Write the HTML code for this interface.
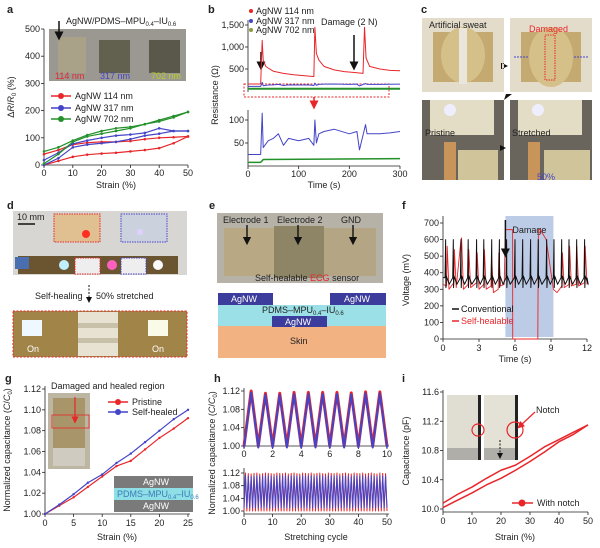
<!DOCTYPE html>
<html><head><meta charset="utf-8"><style>
html,body{margin:0;padding:0;background:#fff;}
svg{display:block;font-family:"Liberation Sans",sans-serif;}
text{font-size:9px;fill:#222;}
.pl{font-size:11px;font-weight:bold;}
</style></head><body>
<svg id="fig" width="600" height="548" viewBox="0 0 600 548" xmlns="http://www.w3.org/2000/svg">
<defs>
<marker id="ah" markerWidth="6" markerHeight="6" refX="3" refY="3" orient="auto"><path d="M0,0 L6,3 L0,6 z" fill="#111"/></marker>
<marker id="ahr" markerWidth="6" markerHeight="6" refX="3" refY="3" orient="auto"><path d="M0,0 L6,3 L0,6 z" fill="#e8262a"/></marker>
</defs>
<!-- panel letters -->
<text class="pl" x="7" y="13">a</text>
<text class="pl" x="208" y="13">b</text>
<text class="pl" x="421" y="13">c</text>
<text class="pl" x="7" y="209">d</text>
<text class="pl" x="209" y="209">e</text>
<text class="pl" x="402" y="209">f</text>
<text class="pl" x="5" y="382">g</text>
<text class="pl" x="214" y="382">h</text>
<text class="pl" x="402" y="382">i</text>

<!-- panel a inset photo -->
<g>
<rect x="49" y="29" width="137" height="52" fill="#9a9890"/>
<rect x="58" y="37" width="28" height="36" fill="#aaa288"/>
<rect x="99" y="40" width="31" height="33" fill="#62604f"/>
<rect x="149" y="40" width="31" height="33" fill="#5a584a"/>
<text x="55" y="79" style="fill:#e8262a">114 nm</text>
<text x="100" y="79" style="fill:#4444c8">317 nm</text>
<text x="151" y="79" style="fill:#b8d020">702 nm</text>
</g>
<text x="66" y="24">AgNW/PDMS–MPU<tspan font-size="6" dy="2">0.4</tspan><tspan dy="-2">–IU</tspan><tspan font-size="6" dy="2">0.6</tspan></text>
<line x1="59" y1="21" x2="59" y2="36" stroke="#111" stroke-width="1.5" marker-end="url(#ah)"/>

<!-- panel b annotations -->
<text x="321" y="25">Damage (2 N)</text>
<line x1="261" y1="52" x2="261" y2="66" stroke="#111" stroke-width="1.5" marker-end="url(#ah)"/>
<line x1="354" y1="35" x2="354" y2="66" stroke="#111" stroke-width="1.5" marker-end="url(#ah)"/>
<rect x="244" y="84" width="145" height="13" fill="none" stroke="#e8262a" stroke-dasharray="2,1.5"/>
<line x1="314" y1="97" x2="314" y2="105" stroke="#e8262a" stroke-width="1.5" marker-end="url(#ahr)"/>

<!-- panel c photos -->
<g>
<rect x="422" y="18" width="82" height="74" fill="#e4dccb"/>
<rect x="433" y="32" width="60" height="50" fill="#c4aa70"/>
<ellipse cx="463" cy="55" rx="22" ry="28" fill="#d6c08a"/>
<rect x="459" y="28" width="8" height="56" fill="#ebe6dc"/>
<text x="429" y="28">Artificial sweat</text>
<rect x="510" y="18" width="82" height="74" fill="#e4dccb"/>
<rect x="521" y="32" width="60" height="50" fill="#c4aa70"/>
<ellipse cx="551" cy="57" rx="22" ry="30" fill="#d6c08a"/>
<rect x="545" y="35" width="10" height="45" fill="none" stroke="#e8262a" stroke-dasharray="1.5,1"/>
<text x="529" y="32" style="fill:#e8262a">Damaged</text>
<line x1="514" y1="57" x2="528" y2="57" stroke="#4444c8" stroke-dasharray="2,1"/>
<line x1="588" y1="57" x2="574" y2="57" stroke="#4444c8" stroke-dasharray="2,1"/>
<rect x="422" y="100" width="82" height="80" fill="#6a655c"/>
<rect x="430" y="100" width="64" height="35" fill="#e4ddc6"/>
<circle cx="450" cy="110" r="6" fill="#eef"/>
<rect x="444" y="142" width="12" height="38" fill="#c8945a"/>
<rect x="458" y="150" width="40" height="30" fill="#cfc49a"/>
<text x="425" y="136">Pristine</text>
<rect x="510" y="100" width="82" height="80" fill="#6a655c"/>
<rect x="518" y="100" width="64" height="35" fill="#e4ddc6"/>
<circle cx="538" cy="110" r="6" fill="#eef"/>
<rect x="528" y="142" width="12" height="38" fill="#c8945a"/>
<rect x="544" y="150" width="46" height="30" fill="#cfc49a"/>
<text x="512" y="136">Stretched</text>
<text x="537" y="180" style="fill:#4444c8">50%</text>
<path d="M502,63 l6,3 l-6,3z M504,63 h-3 v6 h3z" fill="#111"/>
<path d="M500,145 l6,3 l-6,3z" fill="#111"/>
<path d="M512,94 l-8,6 l2,-6z" fill="#111"/>
</g>

<!-- panel d -->
<g>
<rect x="13" y="211" width="174" height="64" fill="#d8d6d3"/>
<rect x="18" y="256" width="160" height="18" fill="#6b5530"/>
<rect x="15" y="257" width="14" height="12" fill="#4a6fb0"/>
<circle cx="64" cy="265" r="5" fill="#bfefff"/>
<circle cx="112" cy="265" r="5" fill="#ff60c0"/>
<circle cx="158" cy="265" r="5" fill="#fafafa"/>
<rect x="75" y="258" width="25" height="16" fill="#eee" stroke="#e8262a" stroke-dasharray="1.5,1"/>
<rect x="121" y="258" width="25" height="16" fill="#eee" stroke="#4444c8" stroke-dasharray="1.5,1"/>
<rect x="54" y="214" width="46" height="28" fill="#e0c090" stroke="#e8262a" stroke-dasharray="1.5,1"/>
<circle cx="86" cy="234" r="4" fill="#ff3020"/>
<rect x="121" y="214" width="46" height="28" fill="#ccd2dd" stroke="#4444c8" stroke-dasharray="1.5,1"/>
<circle cx="140" cy="232" r="3" fill="#e0d0ff"/>
<line x1="18" y1="224" x2="35" y2="224" stroke="#111" stroke-width="1.5"/>
<text x="17" y="220">10 mm</text>
<text x="35" y="299">Self-healing</text>
<text x="96" y="299">50% stretched</text>
<line x1="89" y1="285" x2="89" y2="300" stroke="#111" stroke-dasharray="2,1.5" marker-end="url(#ah)"/>
<rect x="13" y="311" width="174" height="46" fill="#a08448" stroke="#e8262a" stroke-dasharray="2,1.5"/>
<rect x="78" y="312" width="40" height="44" fill="#e8e2d2"/>
<rect x="78" y="323" width="40" height="5" fill="#c8c0a8"/>
<rect x="78" y="338" width="40" height="5" fill="#c8c0a8"/>
<rect x="22" y="320" width="20" height="16" fill="#f0f8ff"/>
<rect x="148" y="320" width="20" height="16" fill="#fafae8"/>
<text x="27" y="352" style="fill:#fff">On</text>
<text x="152" y="352" style="fill:#fff">On</text>
</g>

<!-- panel e -->
<g>
<rect x="217" y="213" width="166" height="70" fill="#b6b2a8"/>
<rect x="224" y="228" width="50" height="48" fill="#b8a884"/>
<rect x="274" y="226" width="50" height="52" fill="#8e8466"/>
<rect x="324" y="228" width="52" height="48" fill="#b4a684"/>
<text x="223" y="223">Electrode 1</text>
<text x="277" y="223">Electrode 2</text>
<text x="341" y="223">GND</text>
<line x1="247" y1="225" x2="247" y2="241" stroke="#111" stroke-width="1.4" marker-end="url(#ah)"/>
<line x1="298" y1="225" x2="298" y2="241" stroke="#111" stroke-width="1.4" marker-end="url(#ah)"/>
<line x1="353" y1="225" x2="353" y2="241" stroke="#111" stroke-width="1.4" marker-end="url(#ah)"/>
<text x="255" y="281">Self-healable <tspan style="fill:#e8262a">ECG</tspan> sensor</text>
</g>
<g>
<rect x="218" y="326" width="168" height="32" fill="#f2b282"/>
<text x="290" y="344">Skin</text>
<rect x="218" y="305" width="168" height="21" fill="#9ae0e6"/>
<rect x="218" y="293" width="55" height="12" fill="#3c3c9c"/>
<text x="231" y="302" style="fill:#fff">AgNW</text>
<rect x="330" y="293" width="56" height="12" fill="#3c3c9c"/>
<text x="344" y="302" style="fill:#fff">AgNW</text>
<rect x="272" y="316" width="55" height="11" fill="#3c3c9c"/>
<text x="285" y="325" style="fill:#fff">AgNW</text>
<text x="262" y="313">PDMS–MPU<tspan font-size="6" dy="2">0.4</tspan><tspan dy="-2">–IU</tspan><tspan font-size="6" dy="2">0.6</tspan></text>
</g>

<!-- g insets -->
<g>
<rect x="48" y="393" width="42" height="76" fill="#bdb6a2"/>
<rect x="53" y="398" width="32" height="50" fill="#a8966a"/>
<rect x="53" y="448" width="32" height="18" fill="#cfcbc0"/>
<rect x="52" y="415" width="37" height="13" fill="none" stroke="#e8262a" stroke-width="0.8"/>
<line x1="75" y1="397" x2="75" y2="420" stroke="#e8262a" stroke-width="1.2" marker-end="url(#ahr)"/>
<text x="51" y="389">Damaged and healed region</text>
</g>
<g>
<rect x="114" y="476" width="79" height="12" fill="#7a7a7a"/>
<rect x="114" y="488" width="79" height="12" fill="#8fe0e6"/>
<rect x="114" y="500" width="79" height="12" fill="#7a7a7a"/>
<text x="143" y="485" style="fill:#fff">AgNW</text>
<text x="117" y="497" style="fill:#3a7ab8">PDMS–MPU<tspan font-size="6" dy="2">0.4</tspan><tspan dy="-2">–IU</tspan><tspan font-size="6" dy="2">0.6</tspan></text>
<text x="143" y="509" style="fill:#fff">AgNW</text>
</g>
<!-- i inset -->
<g>
<rect x="447" y="395" width="34" height="65" fill="#e0ddd2"/>
<rect x="447" y="448" width="34" height="12" fill="#b0aea8"/>
<rect x="478" y="395" width="3" height="65" fill="#222"/>
<rect x="484" y="395" width="34" height="65" fill="#e4e1d6"/>
<rect x="484" y="448" width="34" height="12" fill="#b0aea8"/>
<rect x="515" y="395" width="3" height="65" fill="#222"/>
<circle cx="478" cy="430" r="6" fill="none" stroke="#e8262a" stroke-width="1.2"/>
<circle cx="515" cy="430" r="8" fill="none" stroke="#e8262a" stroke-width="1.2"/>
<line x1="535" y1="412" x2="520" y2="426" stroke="#e8262a" stroke-width="1.2" marker-end="url(#ahr)"/>
<text x="536" y="413">Notch</text>
<line x1="500" y1="440" x2="500" y2="456" stroke="#111" stroke-dasharray="2,1.5" marker-end="url(#ah)"/>
</g>
<g id="charts"></g>
</svg>
<script>
// ---- data ----
const aStrain=[0,5,10,15,20,25,30,35,40,45,50];
const aRedUp=[0,15,30,38,42,45,50,55,62,80,105];
const aRedDown=[40,55,75,82,85,85,88,95,100,102,105];
const aBlueUp=[0,25,65,75,80,85,95,108,115,125,125];
const aBlueDown=[18,45,78,90,100,108,112,118,135,125,125];
const aGreenUp=[5,40,85,105,115,125,135,150,165,180,195];
const aGreenDown=[50,65,90,110,125,135,140,150,160,175,195];
const bRedT=[0,25,28,30,35,40,50,70,90,110,128,130,132,135,140,150,170,190,210,227,230,233,240,260,280,300];
const bRedV=[160,160,1150,700,560,520,450,400,370,350,330,330,1450,850,700,560,480,440,420,400,1450,750,560,500,470,460];
const bBlueT=[0,25,28,30,40,50,60,70,80,100,120,130,132,135,140,150,170,200,215,220,232,235,240,260,280,300];
const bBlueV=[25,25,115,40,55,60,70,45,60,55,60,45,100,50,70,75,80,70,75,35,90,70,70,70,72,75];
const bGreenT=[0,25,30,300];
const bGreenV=[8,8,14,16];
const fConvSpikes=[0.22,0.86,1.5,2.1,2.8,3.4,4.06,4.7,5.3,6.0,6.64,7.3,7.94,8.64,9.25,9.89,10.5,11.14,11.8];
const fConvPeak=600, fConvDip=310, fConvBase=370;
const fRedT=[0,0.3,0.35,0.5,0.9,0.95,1.1,1.5,1.55,1.7,2.1,2.15,2.3,2.8,2.85,3.0,3.4,3.45,3.6,4.0,4.05,4.2,4.6,4.65,4.8,5.1,5.2,5.8,5.81,7.9,7.95,8.1,8.6,9.2,9.5,9.9,9.95,10.1,10.5,10.55,10.7,11.1,11.15,11.3,11.8,11.85,12];
const fRedV=[330,320,560,300,340,540,310,600,610,300,330,540,310,340,520,300,330,540,300,320,500,280,300,520,320,330,660,660,0,0,660,660,600,300,280,320,520,310,330,560,320,330,560,320,340,560,330];
const gStrain=[0,2.5,5,7.5,10,12.5,15,17.5,20,22.5,25];
const gPristine=[1.000,1.008,1.016,1.026,1.036,1.046,1.051,1.062,1.073,1.082,1.092];
const gHealed=[1.000,1.009,1.019,1.030,1.038,1.049,1.058,1.069,1.080,1.091,1.100];
const hTopPeaks=[1.12,1.115,1.115,1.117,1.117,1.117,1.117,1.116,1.118,1.118];
const hBotPeaks=[1.12,1.118,1.117,1.119,1.12,1.117,1.118,1.12,1.119,1.118,1.117,1.12,1.119,1.118,1.12,1.117,1.119,1.12,1.118,1.117,1.12,1.119,1.118,1.12,1.117,1.119,1.12,1.118,1.117,1.12,1.119,1.118,1.12,1.117,1.119,1.12,1.118,1.117,1.12,1.119,1.118,1.12,1.117,1.119,1.12,1.118,1.117,1.12,1.119,1.118];
const iStrain=[0,5,10,15,20,25,30,35,40,45,50];
const iUp=[10.02,10.12,10.22,10.33,10.42,10.53,10.65,10.78,10.92,11.02,11.15];
const iDown=[10.08,10.2,10.3,10.42,10.53,10.6,10.72,10.85,10.95,11.05,11.15];

const NS="http://www.w3.org/2000/svg";
const root=document.getElementById('charts');
function mk(tag,attrs,parent){const e=document.createElementNS(NS,tag);for(const k in attrs)e.setAttribute(k,attrs[k]);(parent||root).appendChild(e);return e;}
function lin(d0,d1,r0,r1){return v=>r0+(v-d0)*(r1-r0)/(d1-d0);}
function yAxis(x,ya,yb,ticks,sy,lbl,name){
  const l=mk('line',{x1:x,y1:ya,x2:x,y2:yb,stroke:'#222','stroke-width':0.8});
  
  
  ticks.forEach((t,i)=>{const y=sy(t);mk('line',{x1:x-3,y1:y,x2:x,y2:y,stroke:'#222','stroke-width':0.8});
    const tx=mk('text',{x:x-4,y:y+3,'text-anchor':'end'});tx.textContent=lbl[i];
    
    });
}
function xAxis(y,xa,xb,ticks,sx,lbl,name,ly){
  const l=mk('line',{x1:xa,y1:y,x2:xb,y2:y,stroke:'#222','stroke-width':0.8});
  
  
  ticks.forEach((t,i)=>{const x=sx(t);mk('line',{x1:x,y1:y,x2:x,y2:y+3,stroke:'#222','stroke-width':0.8});
    const tx=mk('text',{x:x,y:ly||y+12,'text-anchor':'middle'});tx.textContent=lbl[i];
    
    });
}
function title(x,y,txt,rot,name){const t=mk('text',{x:x,y:y,'text-anchor':'middle',transform:rot?`rotate(-90 ${x} ${y})`:''});t.innerHTML=txt;
  
  return t;}
function poly(xs,ys,sx,sy,col,w,name,dots){
  const p=mk('polyline',{points:xs.map((v,i)=>sx(v)+','+sy(ys[i])).join(' '),fill:'none',stroke:col,'stroke-width':w||1.2,'stroke-linejoin':'round'});
  
  
  if(dots){xs.forEach((v,i)=>{const c=mk('circle',{cx:sx(v),cy:sy(ys[i]),r:dots,fill:col});
    
    });}
  return p;}

// ---- panel a ----
{const sx=lin(0,50,44,188), sy=lin(0,500,165,29);
yAxis(44,29,165,[0,100,200,300,400,500],sy,['0','100','200','300','400','500'],'a');
xAxis(165,44,188,[0,10,20,30,40,50],sx,['0','10','20','30','40','50'],'a',176);
title(116,188,'Strain (%)',false,'a-x-axis-title');
title(14,97,'Δ<tspan font-style="italic">R</tspan>/<tspan font-style="italic">R</tspan><tspan font-size="6" dy="2">0</tspan><tspan dy="-2"> (%)</tspan>',true,'a-y-axis-title');
poly(aStrain,aRedUp,sx,sy,'#e8262a',1.2,'a-red-loading',1.3);poly(aStrain,aRedDown,sx,sy,'#e8262a',1.2,'a-red-unloading',1.3);
poly(aStrain,aBlueUp,sx,sy,'#4444c8',1.2,'a-blue-loading',1.3);poly(aStrain,aBlueDown,sx,sy,'#4444c8',1.2,'a-blue-unloading',1.3);
poly(aStrain,aGreenUp,sx,sy,'#23902a',1.2,'a-green-loading',1.3);poly(aStrain,aGreenDown,sx,sy,'#23902a',1.2,'a-green-unloading',1.3);
[['#e8262a','AgNW 114 nm',96],['#4444c8','AgNW 317 nm',108],['#23902a','AgNW 702 nm',119]].forEach(([c,t,y])=>{
 const g=mk('g',{});
 mk('line',{x1:51,y1:y,x2:71,y2:y,stroke:c,'stroke-width':1.5},g);mk('circle',{cx:61,cy:y,r:3,fill:c},g);
 const tx=mk('text',{x:75,y:y+3},g);tx.textContent=t;});}

// ---- panel b ----
{const sx=lin(0,300,248,400), syT=lin(0,1500,91,25), syB=lin(0,100,166,120);
yAxis(248,20,92,[500,1000,1500],syT,['500','1,000','1,500'],'b-top');
yAxis(248,110,166,[50,100],syB,['50','100'],'b-bottom');
xAxis(166,248,400,[0,100,200,300],sx,['0','100','200','300'],'b',177);
title(324,188,'Time (s)',false,'b-x-axis-title');
title(218,95,'Resistance (Ω)',true,'b-y-axis-title');
poly(bGreenT,bGreenT.map(()=>50),sx,syT,'#23902a',2,'b-top-green');
poly(bBlueT,bBlueV,sx,v=>syT(v+80),'#4444c8',1,'b-top-blue');
poly(bRedT,bRedV,sx,syT,'#e8262a',1,'b-top-red');
poly(bGreenT,bGreenV,sx,syB,'#23902a',1.5,'b-bottom-green');
poly(bBlueT,bBlueV,sx,syB,'#4444c8',1,'b-bottom-blue');
[['#e8262a','AgNW 114 nm',14],['#4444c8','AgNW 317 nm',24],['#8a9a40','AgNW 702 nm',33]].forEach(([c,t,y])=>{
 const g=mk('g',{});
 mk('circle',{cx:251,cy:y-3,r:2,fill:c},g);const tx=mk('text',{x:256,y:y},g);tx.textContent=t;});}

// ---- panel f ----
{const sx=lin(0,12,443,587), sy=lin(0,700,339,223);
const r=mk('rect',{x:sx(5.2),y:216,width:sx(9.2)-sx(5.2),height:121,fill:'#bccbe6'});

title(sx(7.2),233,'Damage',false,'f-damage-label').setAttribute('font-size','10');
yAxis(443,216,339,[0,100,200,300,400,500,600,700],sy,['0','100','200','300','400','500','600','700'],'f');
xAxis(339,443,587,[0,3,6,9,12],sx,['0','3','6','9','12'],'f',351);
title(409,280,'Voltage (mV)',true,'f-y-axis-title');
title(515,362,'Time (s)',false,'f-x-axis-title');
poly(fRedT,fRedV,sx,sy,'#e8262a',0.9,'f-self-healable-line');
const cx=[0],cv=[fConvBase];
fConvSpikes.forEach(t=>{cx.push(t-0.05,t,t+0.02,t+0.06,t+0.3);cv.push(fConvBase,fConvPeak,fConvDip,fConvBase+10,fConvBase-40);});
cx.push(12);cv.push(fConvBase);
poly(cx,cv,sx,sy,'#111',1,'f-conventional-line');
mk('line',{x1:sx(5.2),y1:220,x2:sx(5.2),y2:253,stroke:'#111','stroke-width':1.5,'marker-end':'url(#ah)'});
[['#111','Conventional',312],['#e8262a','Self-healable',324]].forEach(([c,t,y])=>{
 const g=mk('g',{});
 mk('line',{x1:452,y1:y-3,x2:459,y2:y-3,stroke:c,'stroke-width':1.5},g);const tx=mk('text',{x:461,y:y,style:'fill:'+c},g);tx.textContent=t;});}

// ---- panel g ----
{const sx=lin(0,25,45,188), sy=lin(1.00,1.12,514,389);
yAxis(45,386,514,[1.00,1.02,1.04,1.06,1.08,1.10,1.12],sy,['1.00','1.02','1.04','1.06','1.08','1.10','1.12'],'g');
xAxis(514,45,190,[0,5,10,15,20,25],sx,['0','5','10','15','20','25'],'g',526);
title(117,540,'Strain (%)',false,'g-x-axis-title');
title(10,450,'Normalized capacitance (<tspan font-style="italic">C</tspan>/<tspan font-style="italic">C</tspan><tspan font-size="6" dy="2">0</tspan><tspan dy="-2">)</tspan>',true,'g-y-axis-title');
poly(gStrain,gPristine,sx,sy,'#e8262a',1.2,'g-pristine-line',1.2);
poly(gStrain,gHealed,sx,sy,'#4444c8',1.2,'g-self-healed-line',1.2);
[['#e8262a','Pristine',405],['#4444c8','Self-healed',415]].forEach(([c,t,y])=>{
 const g=mk('g',{});
 mk('line',{x1:108,y1:y-3,x2:128,y2:y-3,stroke:c,'stroke-width':1.5},g);mk('circle',{cx:118,cy:y-3,r:3,fill:c},g);
 const tx=mk('text',{x:132,y:y},g);tx.textContent=t;});}

// ---- panel h ----
{const sx=lin(0,10,244,387), sy=lin(1.00,1.12,446,391);
yAxis(244,388,446,[1.00,1.04,1.08,1.12],sy,['1.00','1.04','1.08','1.12'],'h-top');
xAxis(446,244,389,[0,2,4,6,8,10],sx,['0','2','4','6','8','10'],'h-top',457);
const tx=[0],tv=[1.0];hTopPeaks.forEach((p,i)=>{tx.push(i+0.5,i+1);tv.push(p,1.0);});
poly(tx,tv,sx,sy,'#e8262a',3,'h-top-pristine');
poly(tx,tv,sx,v=>sy(v)+1.5,'#4444c8',2,'h-top-healed');
const sx2=lin(0,50,244,387), sy2=lin(1.00,1.12,511,473);
yAxis(244,468,514,[1.00,1.04,1.08,1.12],sy2,['1.00','1.04','1.08','1.12'],'h-bottom');
xAxis(514,244,389,[0,10,20,30,40,50],sx2,['0','10','20','30','40','50'],'h-bottom',525);
const bx=[0],bv=[1.0];hBotPeaks.forEach((p,i)=>{bx.push(i+0.5,i+1);bv.push(p,1.0);});
poly(bx,bv,sx2,sy2,'#e8262a',1,'h-bottom-pristine');
poly(bx,bv.map(v=>v===1.0?1.01:v-0.008),sx2,sy2,'#4444c8',1,'h-bottom-healed');
title(316,540,'Stretching cycle',false,'h-x-axis-title');
title(215,453,'Normalized capacitance (<tspan font-style="italic">C</tspan>/<tspan font-style="italic">C</tspan><tspan font-size="6" dy="2">0</tspan><tspan dy="-2">)</tspan>',true,'h-y-axis-title');}

// ---- panel i ----
{const sx=lin(0,50,443,588), sy=lin(10.0,11.6,509,392);
yAxis(443,390,512,[10.0,10.4,10.8,11.2,11.6],sy,['10.0','10.4','10.8','11.2','11.6'],'i');
xAxis(512,443,588,[0,10,20,30,40,50],sx,['0','10','20','30','40','50'],'i',524);
title(515,540,'Strain (%)',false,'i-x-axis-title');
title(409,451,'Capacitance (pF)',true,'i-y-axis-title');
poly(iStrain,iUp,sx,sy,'#e8262a',1.5,'i-loading-line');
poly(iStrain,iDown,sx,sy,'#e8262a',1.5,'i-unloading-line');
const g=mk('g',{});
mk('line',{x1:512,y1:503,x2:533,y2:503,stroke:'#e8262a','stroke-width':1.5},g);mk('circle',{cx:522,cy:503,r:3.5,fill:'#e8262a'},g);
const t=mk('text',{x:537,y:506},g);t.textContent='With notch';}
</script>
</body></html>
